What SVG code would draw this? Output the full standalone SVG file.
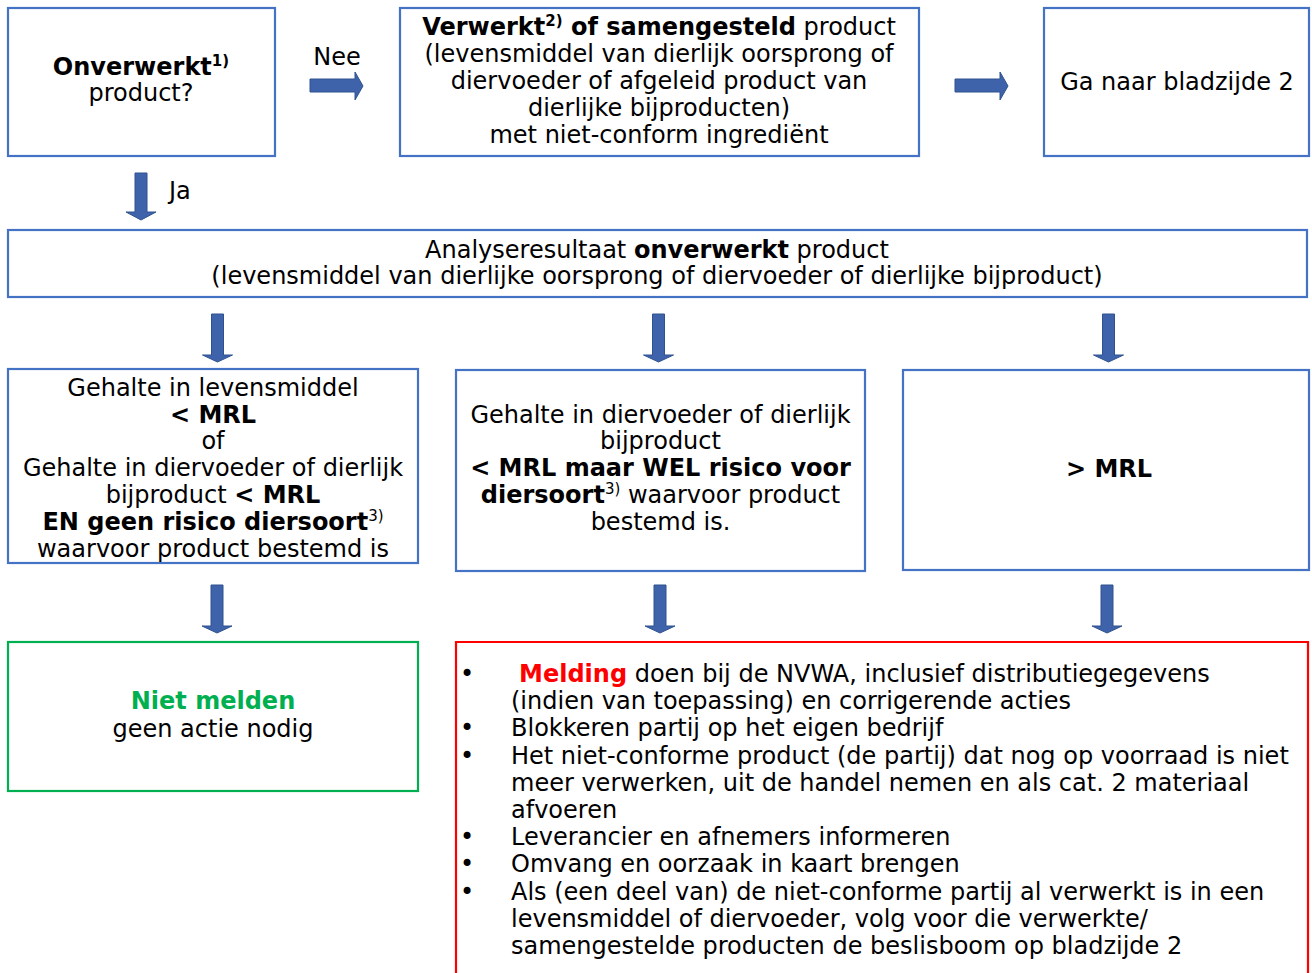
<svg xmlns="http://www.w3.org/2000/svg" width="1312" height="973" viewBox="0 0 1312 973">
<style>
  text { font-family: "DejaVu Sans", Verdana, sans-serif; font-size: 24px; fill: #000; }
  .c { text-anchor: middle; }
  .b { font-weight: bold; }
  .box { fill: #fff; stroke: #4472C4; stroke-width: 2.2; }
  .gbox { fill: #fff; stroke: #00B050; stroke-width: 2.2; }
  .rbox { fill: #fff; stroke: #FF0000; stroke-width: 2.2; }
  .arr { fill: #3F63AB; stroke: #2F528F; stroke-width: 1; }
  .sup { font-size: 15px; }
</style>
<rect width="1312" height="973" fill="#fff"/>

<g id="connectors">
  <path class="arr" d="M310,79 H355 V72 L363,86 L355,100 V92 H310 Z"/>
  <path class="arr" d="M955,79 H1000 V72 L1008,86 L1000,100 V92 H955 Z"/>
  <path class="arr" d="M135,173 V212 H126 L141,220 L156,212 H147 V173 Z"/>
  <path class="arr" d="M211.5,314 V355 H202.5 L217.5,362 L232.5,355 H223.5 V314 Z"/>
  <path class="arr" d="M652.5,314 V355 H643.5 L658.5,362 L673.5,355 H664.5 V314 Z"/>
  <path class="arr" d="M1102.5,314 V355 H1093.5 L1108.5,362 L1123.5,355 H1114.5 V314 Z"/>
  <path class="arr" d="M211,585 V626 H202 L217,633 L232,626 H223 V585 Z"/>
  <path class="arr" d="M654,585 V626 H645 L660,633 L675,626 H666 V585 Z"/>
  <path class="arr" d="M1101,585 V626 H1092 L1107,633 L1122,626 H1113 V585 Z"/>
  <text x="337" y="65" class="c">Nee</text>
  <text x="169" y="199">Ja</text>
</g>

<g id="n-onverwerkt">
  <rect class="box" x="8" y="8" width="267" height="148"/>
  <text x="141" y="75" class="c"><tspan class="b">Onverwerkt</tspan><tspan class="b sup" dy="-9">1)</tspan></text>
  <text x="141" y="101" class="c">product?</text>
</g>

<g id="n-verwerkt">
  <rect class="box" x="400" y="8" width="519" height="148"/>
  <text x="659" y="35" class="c"><tspan class="b">Verwerkt</tspan><tspan class="b sup" dy="-9">2)</tspan><tspan class="b" dy="9"> of samengesteld</tspan> product</text>
  <text x="659" y="62" class="c">(levensmiddel van dierlijk oorsprong of</text>
  <text x="659" y="89" class="c">diervoeder of afgeleid product van</text>
  <text x="659" y="116" class="c">dierlijke bijproducten)</text>
  <text x="659" y="143" class="c">met niet-conform ingrediënt</text>
</g>

<g id="n-bladzijde">
  <rect class="box" x="1044" y="8" width="265" height="148"/>
  <text x="1177" y="90" class="c">Ga naar bladzijde 2</text>
</g>

<g id="n-analyse">
  <rect class="box" x="8" y="230" width="1299" height="67"/>
  <text x="657" y="258" class="c">Analyseresultaat <tspan class="b">onverwerkt</tspan> product</text>
  <text x="657" y="284" class="c">(levensmiddel van dierlijke oorsprong of diervoeder of dierlijke bijproduct)</text>
</g>

<g id="n-lager">
  <rect class="box" x="8" y="369" width="410" height="194"/>
  <text x="213" y="396" class="c">Gehalte in levensmiddel</text>
  <text x="213" y="423" class="c b">&lt; MRL</text>
  <text x="213" y="449" class="c">of</text>
  <text x="213" y="476" class="c">Gehalte in diervoeder of dierlijk</text>
  <text x="213" y="503" class="c">bijproduct <tspan class="b">&lt; MRL</tspan></text>
  <text x="213" y="530" class="c"><tspan class="b">EN geen risico diersoort</tspan><tspan class="sup" dy="-9">3)</tspan></text>
  <text x="213" y="557" class="c">waarvoor product bestemd is</text>
</g>

<g id="n-risico">
  <rect class="box" x="456" y="370" width="409" height="201"/>
  <text x="660.5" y="423" class="c">Gehalte in diervoeder of dierlijk</text>
  <text x="660.5" y="449" class="c">bijproduct</text>
  <text x="660.5" y="476" class="c b">&lt; MRL maar WEL risico voor</text>
  <text x="660.5" y="503" class="c"><tspan class="b">diersoort</tspan><tspan class="sup" dy="-9">3)</tspan><tspan dy="9"> waarvoor product</tspan></text>
  <text x="660.5" y="530" class="c">bestemd is.</text>
</g>

<g id="n-hoger">
  <rect class="box" x="903" y="370" width="406" height="200"/>
  <text x="1109" y="477" class="c b">&gt; MRL</text>
</g>

<g id="n-niet-melden">
  <rect class="gbox" x="8" y="642" width="410" height="149"/>
  <text x="213" y="709" class="c b" style="fill:#00B050">Niet melden</text>
  <text x="213" y="737" class="c">geen actie nodig</text>
</g>

<g id="n-melden">
  <path class="rbox" d="M456,980 V642 H1308 V980"/>
  <text x="460" y="682">•</text>
  <text x="519" y="682"><tspan class="b" style="fill:#FF0000">Melding</tspan> doen bij de NVWA, inclusief distributiegegevens</text>
  <text x="511" y="709">(indien van toepassing) en corrigerende acties</text>
  <text x="460" y="736">•</text>
  <text x="511" y="736">Blokkeren partij op het eigen bedrijf</text>
  <text x="460" y="764">•</text>
  <text x="511" y="764">Het niet-conforme product (de partij) dat nog op voorraad is niet</text>
  <text x="511" y="791">meer verwerken, uit de handel nemen en als cat. 2 materiaal</text>
  <text x="511" y="818">afvoeren</text>
  <text x="460" y="845">•</text>
  <text x="511" y="845">Leverancier en afnemers informeren</text>
  <text x="460" y="872">•</text>
  <text x="511" y="872">Omvang en oorzaak in kaart brengen</text>
  <text x="460" y="900">•</text>
  <text x="511" y="900">Als (een deel van) de niet-conforme partij al verwerkt is in een</text>
  <text x="511" y="927">levensmiddel of diervoeder, volg voor die verwerkte/</text>
  <text x="511" y="954">samengestelde producten de beslisboom op bladzijde 2</text>
</g>
</svg>
